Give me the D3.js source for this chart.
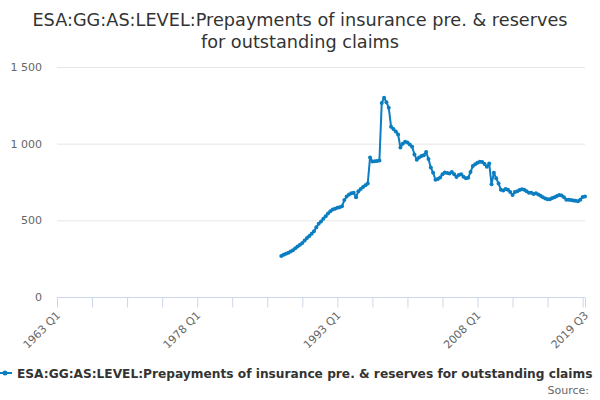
<!DOCTYPE html>
<html>
<head>
<meta charset="utf-8">
<script src="https://cdn.jsdelivr.net/npm/d3@7"></script>
<style>
  body { margin: 0; background: #fff; }
  text { font-family: "DejaVu Sans", Verdana, sans-serif; }
</style>
</head>
<body>
<div id="chart"></div>
<script>
var svgWidth = 600;
var svgHeight = 400;
var margin = { top: 67, right: 15, bottom: 103, left: 57 };

// quarterly series, first value is 1987 Q1, last is 2019 Q3
var firstQuarter = "1987 Q1";
var values = [
  267, 275, 282, 288, 296, 305, 318, 330, 340, 352,
  368, 385, 398, 412, 428, 455, 478, 492, 510, 527,
  545, 560, 570, 575, 582, 586, 592, 632, 656, 668,
  676, 680, 650, 690, 705, 718, 728, 740, 910, 883,
  885, 887, 890, 1265, 1300, 1270, 1235, 1110, 1095, 1080,
  1060, 975, 1000, 1013, 1008, 995, 980, 930, 895, 910,
  920, 925, 945, 900, 845, 810, 765, 770, 780, 800,
  812, 808, 805, 815, 800, 782, 795, 800, 785, 775,
  778, 815, 855, 865, 875, 882, 880, 868, 850, 870,
  735, 810, 775, 740, 700, 695, 705, 700, 685, 665,
  685, 690, 698, 702, 700, 690, 680, 680, 672, 676,
  668, 660, 650, 642, 638, 638, 645, 650, 658, 665,
  662, 650, 635, 635, 633, 630, 628, 625, 635, 652,
  655
];

// x axis: categories run from 1963 Q1 to 2019 Q3
var axisStart = "1963 Q1";
var axisEnd = "2019 Q3";
var tickLabels = ["1963 Q1", "1978 Q1", "1993 Q1", "2008 Q1", "2019 Q3"];
var tickStep = 15;
var yTicks = [0, 500, 1000, 1500];

var seriesName = "ESA:GG:AS:LEVEL:Prepayments of insurance pre. & reserves for outstanding claims";
var titleLines = ["ESA:GG:AS:LEVEL:Prepayments of insurance pre. & reserves", "for outstanding claims"];

function quarterIndex(q) {
  var parts = q.split(" Q");
  return (+parts[0] - 1963) * 4 + (+parts[1] - 1);
}

var startIdx = quarterIndex(firstQuarter);
var data = values.map(function (v, i) { return { idx: startIdx + i, value: v }; });

var width = svgWidth - margin.left - margin.right;
var height = svgHeight - margin.top - margin.bottom;

var svg = d3.select("#chart")
  .append("svg")
  .attr("width", svgWidth)
  .attr("height", svgHeight);

var chartGroup = svg.append("g")
  .attr("transform", `translate(${margin.left}, ${margin.top})`);

var xScale = d3.scaleLinear()
  .domain([quarterIndex(axisStart), quarterIndex(axisEnd)])
  .range([0, width]);

var yScale = d3.scaleLinear()
  .domain([0, 1500])
  .range([height, 0]);

// title
svg.append("g").selectAll("text")
  .data(titleLines)
  .enter()
  .append("text")
  .attr("x", svgWidth / 2)
  .attr("y", (d, i) => 26 + i * 22)
  .attr("text-anchor", "middle")
  .attr("fill", "#333333")
  .style("font-size", "17.7px")
  .text(d => d);

// gridlines
chartGroup.append("g").selectAll("line")
  .data(yTicks.filter(d => d > 0))
  .enter()
  .append("line")
  .attr("x1", 0)
  .attr("x2", width)
  .attr("y1", d => yScale(d) + 0.5)
  .attr("y2", d => yScale(d) + 0.5)
  .attr("stroke", "#e6e6e6")
  .attr("stroke-width", 1);

// y axis labels
var leftAxis = d3.axisLeft(yScale)
  .tickValues(yTicks)
  .tickSize(0)
  .tickPadding(15)
  .tickFormat(d => d3.format(",")(d).replace(",", " "));

var yAxisG = chartGroup.append("g").call(leftAxis);
yAxisG.select(".domain").remove();
yAxisG.selectAll("text")
  .attr("fill", "#666666")
  .style("font-size", "11px");

// x axis
var tickIdx = d3.range(quarterIndex(axisStart), quarterIndex(axisEnd), tickStep).concat([quarterIndex(axisEnd)]);
var labelIdx = tickLabels.map(quarterIndex);

var bottomAxis = d3.axisBottom(xScale)
  .tickValues(tickIdx)
  .tickSize(10)
  .tickFormat(d => "");

var xAxisG = chartGroup.append("g")
  .attr("transform", `translate(0, ${height + 0.5})`)
  .call(bottomAxis);
xAxisG.select(".domain").attr("stroke", "#ccd6eb").attr("d", `M0,0H${width}`);
xAxisG.selectAll(".tick line").attr("stroke", "#ccd6eb");

chartGroup.append("g").selectAll("text")
  .data(tickLabels)
  .enter()
  .append("text")
  .attr("transform", (d, i) => `translate(${xScale(labelIdx[i]) + 4}, ${height + 19}) rotate(-45)`)
  .attr("text-anchor", "end")
  .attr("fill", "#666666")
  .style("font-size", "11px")
  .text(d => d);

// line and markers
var color = "#0b7dc1";
var line = d3.line()
  .x(d => xScale(d.idx))
  .y(d => yScale(d.value));

chartGroup.append("path")
  .datum(data)
  .attr("fill", "none")
  .attr("stroke", color)
  .attr("stroke-width", 2)
  .attr("stroke-linejoin", "round")
  .attr("d", line);

chartGroup.selectAll("circle")
  .data(data)
  .enter()
  .append("circle")
  .attr("cx", d => xScale(d.idx))
  .attr("cy", d => yScale(d.value))
  .attr("r", 2)
  .attr("fill", color);

// legend
var legend = svg.append("g").attr("transform", "translate(0, 373)");
legend.append("line")
  .attr("x1", -2).attr("x2", 12)
  .attr("y1", 0).attr("y2", 0)
  .attr("stroke", color)
  .attr("stroke-width", 2);
legend.append("circle")
  .attr("cx", 5).attr("cy", 0).attr("r", 2.5)
  .attr("fill", color);
legend.append("text")
  .attr("x", 17)
  .attr("y", 4.5)
  .attr("fill", "#333333")
  .style("font-size", "12.2px")
  .style("font-weight", "bold")
  .text(seriesName);

// source
svg.append("text")
  .attr("x", 589)
  .attr("y", 394)
  .attr("text-anchor", "end")
  .attr("fill", "#666666")
  .style("font-size", "11px")
  .text("Source:");
</script>
</body>
</html>
